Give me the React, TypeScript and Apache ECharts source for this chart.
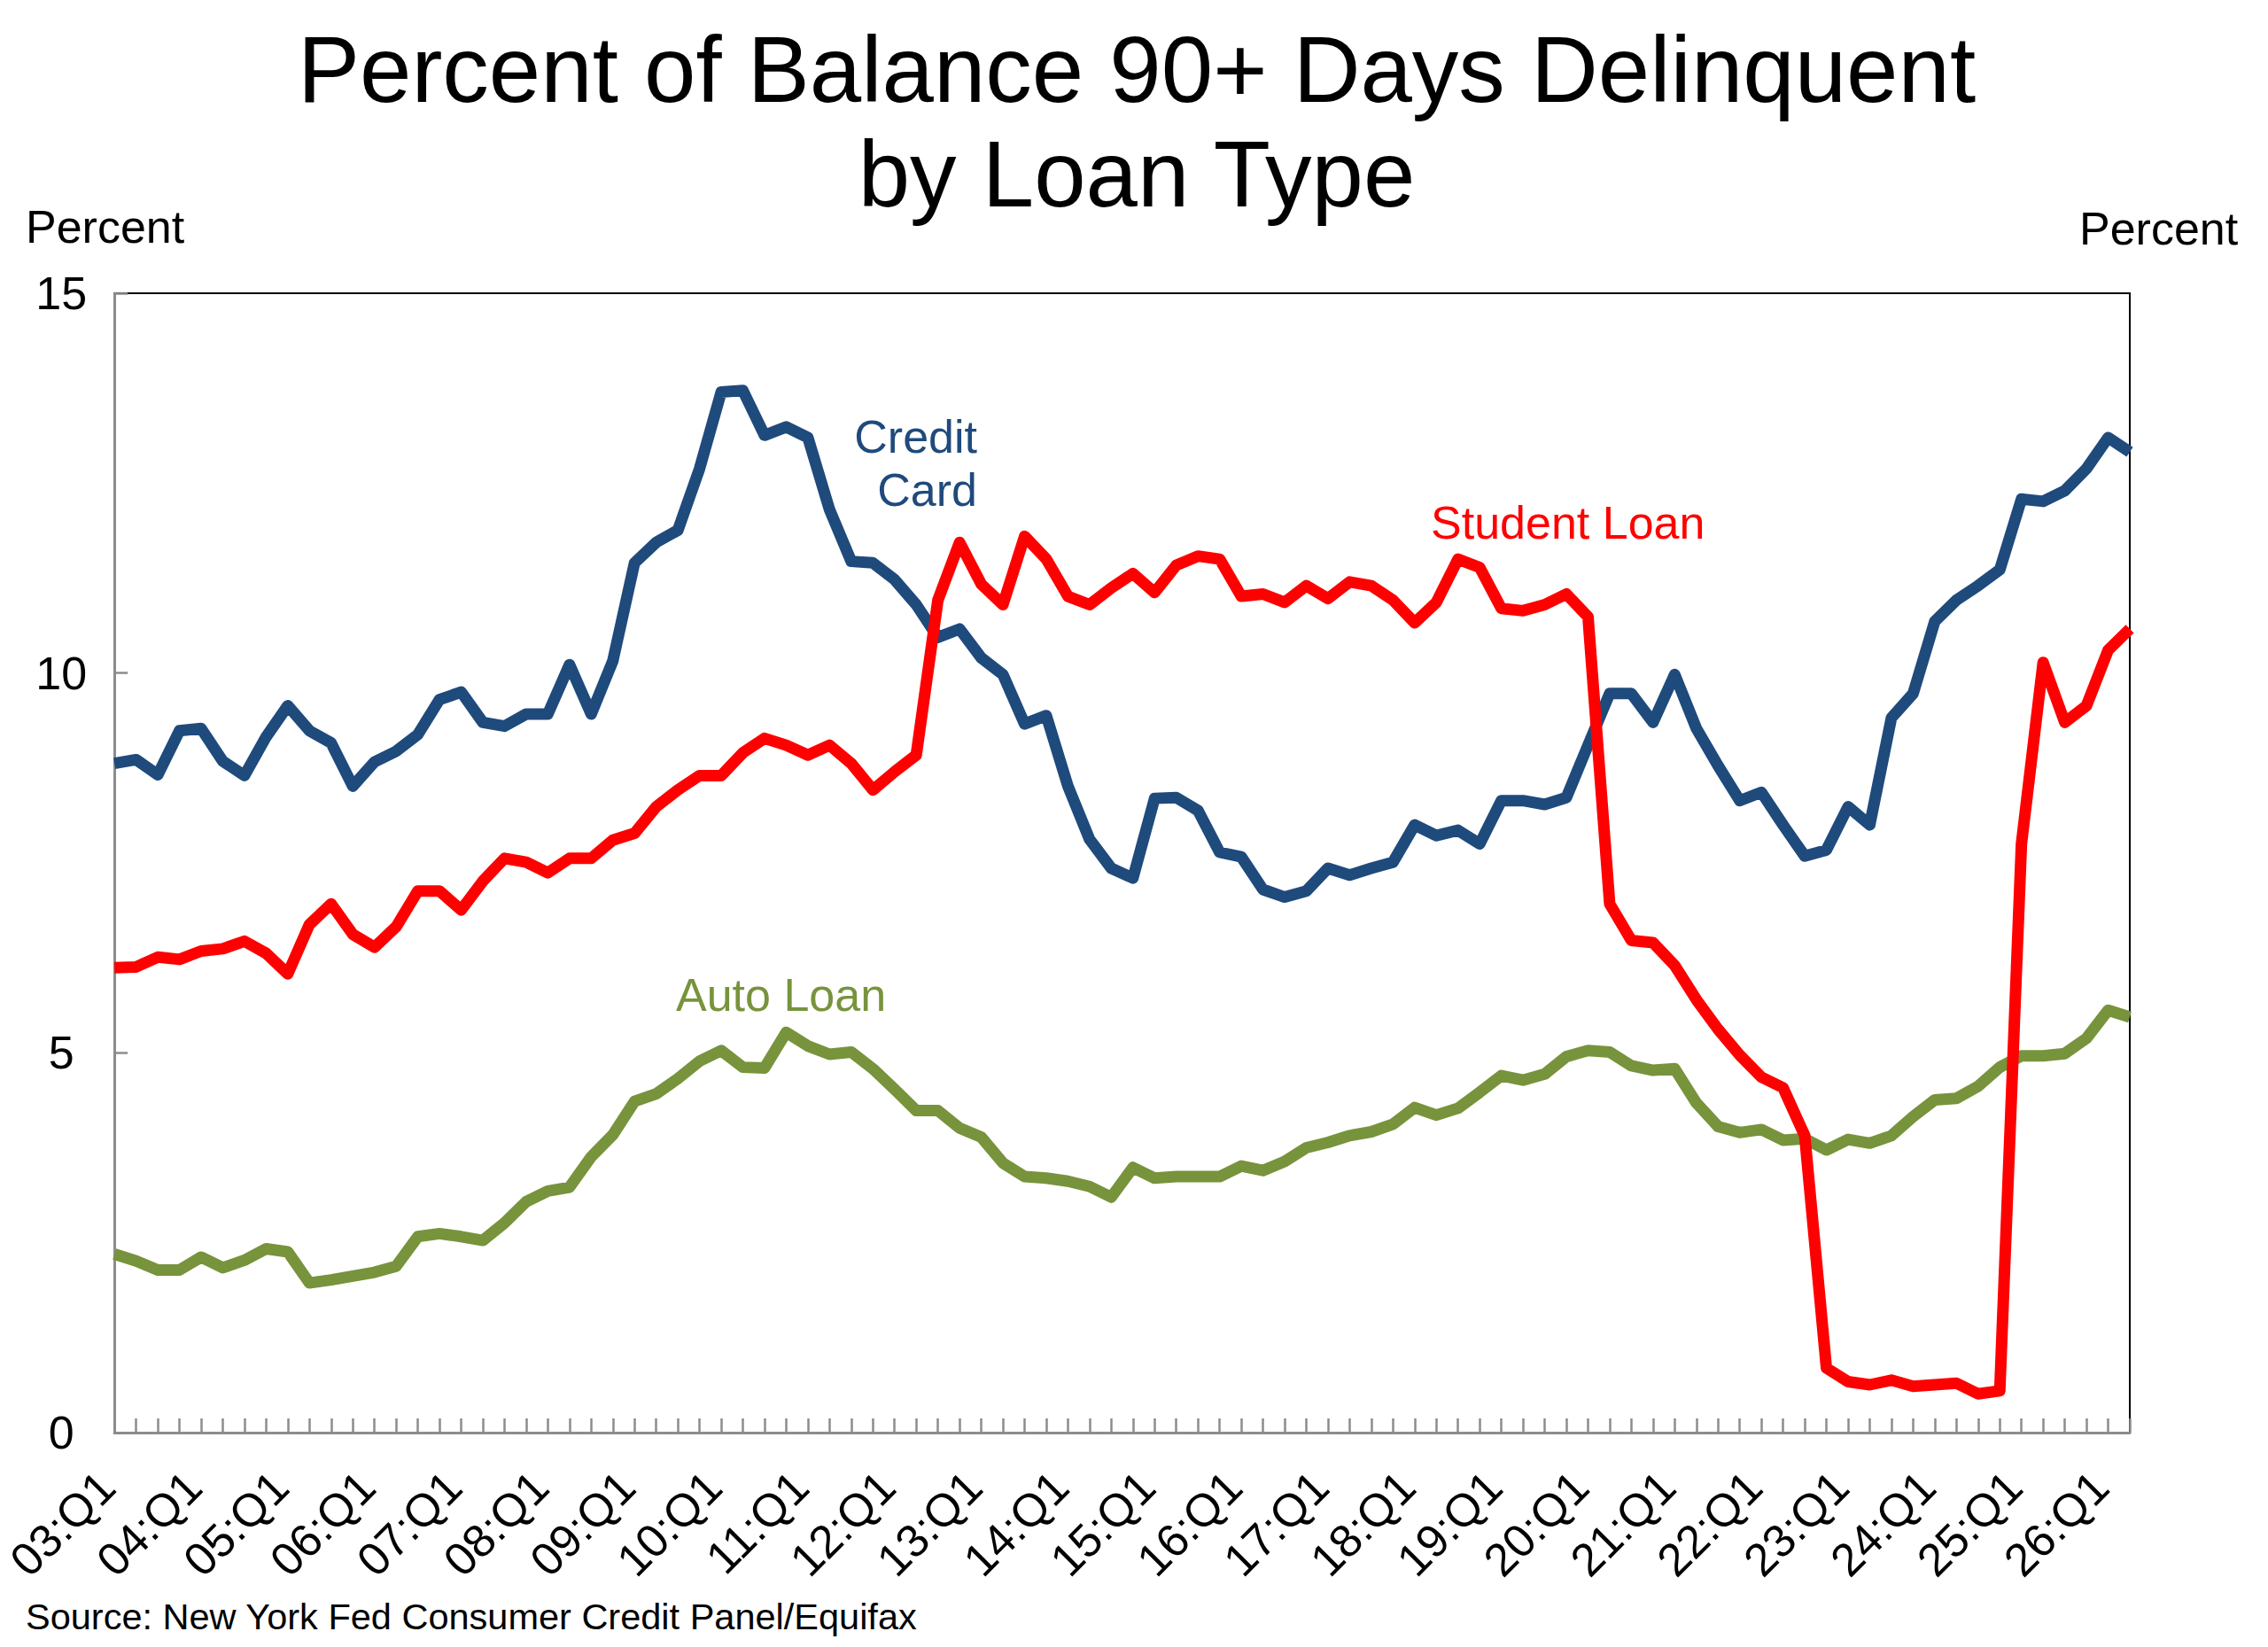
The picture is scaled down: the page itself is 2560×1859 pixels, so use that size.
import React, { useEffect, useRef } from "react";
import * as echarts from "echarts";

const FONT = "'Liberation Sans', Arial, Helvetica, sans-serif";

// Quarters 03:Q1 .. 26:Q2
const firstYear = 3;
const quarterCount = 94;
const categories: string[] = [];
for (let i = 0; i < quarterCount; i++) {
  const yy = firstYear + Math.floor(i / 4);
  categories.push(`${String(yy).padStart(2, "0")}:Q${(i % 4) + 1}`);
}

const yTicks = [0, 5, 10, 15];

const creditCard = [
  8.81, 8.86, 8.66, 9.24, 9.27, 8.84, 8.65, 9.16, 9.57, 9.24,
  9.08, 8.51, 8.83, 8.97, 9.19, 9.65, 9.75, 9.35, 9.30, 9.46,
  9.46, 10.11, 9.46, 10.16, 11.45, 11.72, 11.88, 12.69, 13.70, 13.72,
  13.13, 13.24, 13.10, 12.15, 11.47, 11.45, 11.23, 10.90, 10.47, 10.58,
  10.20, 9.98, 9.33, 9.44, 8.51, 7.81, 7.43, 7.30, 8.35, 8.36,
  8.19, 7.64, 7.58, 7.15, 7.05, 7.13, 7.43, 7.34, 7.43, 7.51,
  8.00, 7.86, 7.93, 7.75, 8.32, 8.32, 8.27, 8.36, 9.05, 9.73,
  9.73, 9.35, 9.98, 9.27, 8.78, 8.32, 8.43, 8.00, 7.59, 7.67,
  8.24, 8.00, 9.41, 9.73, 10.68, 10.96, 11.15, 11.36, 12.29, 12.26,
  12.40, 12.69, 13.10, 12.91,
];

const studentLoan = [
  6.12, 6.13, 6.26, 6.23, 6.34, 6.37, 6.47, 6.31, 6.04, 6.69,
  6.96, 6.56, 6.39, 6.66, 7.13, 7.13, 6.88, 7.26, 7.56, 7.51,
  7.37, 7.56, 7.56, 7.80, 7.89, 8.24, 8.46, 8.65, 8.65, 8.95,
  9.14, 9.05, 8.92, 9.05, 8.81, 8.46, 8.70, 8.92, 10.96, 11.72,
  11.17, 10.90, 11.80, 11.50, 11.01, 10.90, 11.12, 11.31, 11.06, 11.42,
  11.54, 11.50, 11.01, 11.04, 10.93, 11.15, 10.98, 11.20, 11.15, 10.96,
  10.66, 10.93, 11.50, 11.39, 10.85, 10.82, 10.90, 11.04, 10.74, 6.96,
  6.48, 6.45, 6.15, 5.70, 5.31, 4.97, 4.68, 4.54, 3.91, 0.85,
  0.67, 0.63, 0.69, 0.61, 0.63, 0.65, 0.51, 0.55, 7.75, 10.14,
  9.35, 9.57, 10.30, 10.58,
];

const autoLoan = [
  2.35, 2.26, 2.14, 2.14, 2.31, 2.17, 2.27, 2.42, 2.38, 1.97,
  2.01, 2.06, 2.11, 2.19, 2.58, 2.62, 2.58, 2.53, 2.76, 3.04,
  3.18, 3.23, 3.63, 3.92, 4.36, 4.46, 4.66, 4.89, 5.03, 4.81,
  4.80, 5.27, 5.09, 4.98, 5.01, 4.79, 4.52, 4.24, 4.24, 4.01,
  3.89, 3.55, 3.37, 3.35, 3.31, 3.24, 3.10, 3.49, 3.35, 3.37,
  3.37, 3.37, 3.51, 3.45, 3.57, 3.75, 3.82, 3.91, 3.96, 4.06,
  4.28, 4.18, 4.27, 4.48, 4.70, 4.64, 4.72, 4.95, 5.03, 5.01,
  4.83, 4.77, 4.79, 4.34, 4.03, 3.95, 3.99, 3.85, 3.87, 3.72,
  3.86, 3.81, 3.91, 4.16, 4.38, 4.40, 4.56, 4.81, 4.96, 4.96,
  4.99, 5.19, 5.56, 5.47,
];

const titleLines = ["Percent of Balance 90+ Days Delinquent", "by Loan Type"];
const sourceText = "Source: New York Fed Consumer Credit Panel/Equifax";

const BLUE = "#1F4A7C";
const RED = "#FF0000";
const GREEN = "#77933C";
const AXIS_GREY = "#8C8C8C";

export default function App() {
  const ref = useRef<HTMLDivElement>(null);

  useEffect(() => {
    document.body.style.margin = "0";
    if (!ref.current) return;
    const chart = echarts.init(ref.current, undefined, { renderer: "svg" });

    const lineSeries = (name: string, data: number[], color: string, z: number) => ({
      name,
      type: "line",
      data,
      showSymbol: false,
      symbol: "none",
      z,
      lineStyle: { color, width: 13, join: "round", cap: "butt" },
      itemStyle: { color },
    });

    const label = (
      text: string,
      x: number,
      y: number,
      color: string,
      size: number,
      align: string
    ) => ({
      type: "text",
      x,
      y,
      style: {
        text,
        fill: color,
        font: `${size}px ${FONT}`,
        textAlign: align,
        textVerticalAlign: "middle",
      },
    });

    chart.setOption({
      animation: false,
      backgroundColor: "#ffffff",
      textStyle: { fontFamily: FONT },
      grid: {
        left: 127,
        right: 156,
        top: 331,
        bottom: 242,
        show: true,
        borderColor: "#000000",
        borderWidth: 2,
        backgroundColor: "transparent",
      },
      xAxis: {
        type: "category",
        data: categories,
        boundaryGap: false,
        axisLine: { show: true, lineStyle: { color: AXIS_GREY, width: 3 } },
        axisTick: {
          show: true,
          inside: true,
          length: 16,
          interval: 0,
          lineStyle: { color: AXIS_GREY, width: 2.5 },
        },
        axisLabel: {
          interval: 3,
          rotate: 45,
          margin: 44,
          padding: [48, 12, 0, 0],
          fontSize: 52,
          color: "#000000",
          fontFamily: FONT,
          hideOverlap: false,
        },
        splitLine: { show: false },
      },
      yAxis: {
        type: "value",
        min: yTicks[0],
        max: yTicks[yTicks.length - 1],
        interval: 5,
        axisLine: { show: true, lineStyle: { color: AXIS_GREY, width: 3 } },
        axisTick: {
          show: true,
          inside: true,
          length: 15,
          lineStyle: { color: AXIS_GREY, width: 2.5 },
        },
        axisLabel: {
          fontSize: 52,
          color: "#000000",
          fontFamily: FONT,
          align: "center",
          margin: 60,
        },
        splitLine: { show: false },
      },
      series: [
        lineSeries("Auto Loan", autoLoan, GREEN, 2),
        lineSeries("Credit Card", creditCard, BLUE, 3),
        lineSeries("Student Loan", studentLoan, RED, 4),
      ],
      graphic: [
        label(titleLines[0], 1283, 78, "#000000", 105, "center"),
        label(titleLines[1], 1283, 196, "#000000", 105, "center"),
        label("Percent", 29, 256, "#000000", 52, "left"),
        label("Percent", 2347, 258, "#000000", 52, "left"),
        label("Credit", 1103, 493, BLUE, 52, "right"),
        label("Card", 1103, 553, BLUE, 52, "right"),
        label("Student Loan", 1615, 590, RED, 52, "left"),
        label("Auto Loan", 763, 1123, GREEN, 52, "left"),
        label(sourceText, 29, 1824, "#000000", 41.5, "left"),
      ],
    });

    return () => {
      chart.dispose();
    };
  }, []);

  return <div ref={ref} style={{ width: 2560, height: 1859 }} />;
}
